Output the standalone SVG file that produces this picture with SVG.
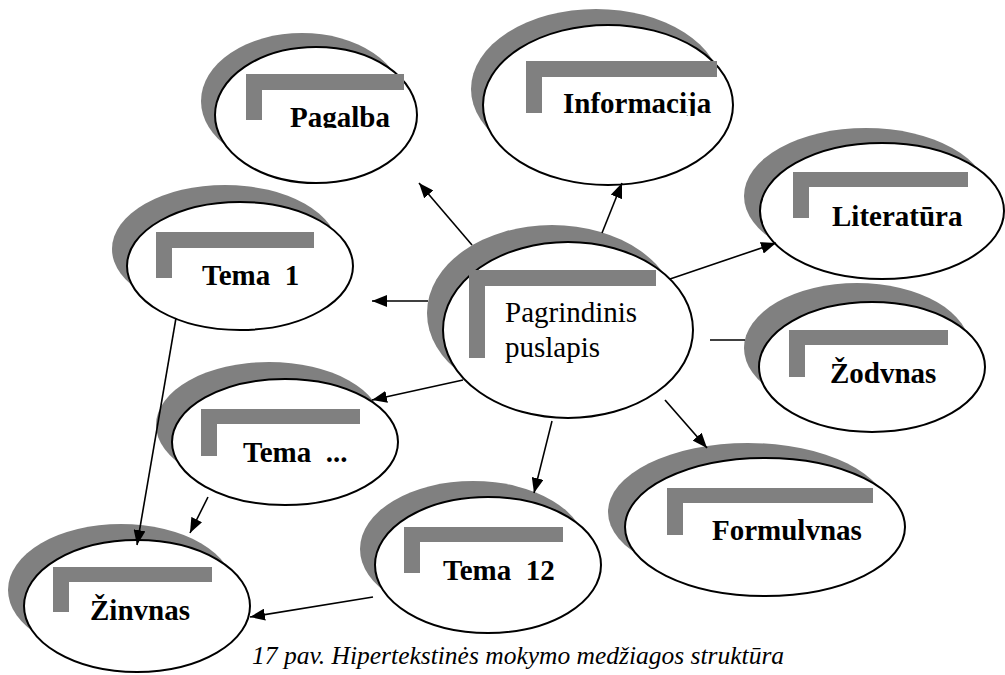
<svg xmlns="http://www.w3.org/2000/svg" width="1005" height="675" viewBox="0 0 1005 675">
  <defs>
    <style>
      .shadow { fill: #808080; stroke: none; }
      .oval { fill: #ffffff; stroke: #000000; stroke-width: 2; }
      .bar { fill: #808080; stroke: none; }
      .label { font-family: "Liberation Serif", "Times New Roman", serif; font-weight: bold; font-size: 29px; fill: #000000; }
      .main { font-family: "Liberation Serif", "Times New Roman", serif; font-size: 29px; fill: #000000; }
      .caption { font-family: "Liberation Serif", "Times New Roman", serif; font-style: italic; font-size: 25.5px; fill: #000000; }
      .link { stroke: #000000; stroke-width: 1.6; fill: none; }
    </style>
    <marker id="arrow" markerUnits="userSpaceOnUse" markerWidth="16" markerHeight="12" refX="15" refY="6" orient="auto">
      <path d="M0,0 L15,6 L0,12 Z" fill="#000000"/>
    </marker>
    <clipPath id="clipPagalba"><rect x="280" y="90" width="130" height="38"/></clipPath>
    <clipPath id="clipInfo"><rect x="555" y="80" width="170" height="36"/></clipPath>
  </defs>

  <!-- Pagalba -->
  <g id="node-pagalba">
    <ellipse class="shadow" cx="302" cy="101" rx="101" ry="68"/>
    <ellipse class="oval" cx="316" cy="115" rx="101" ry="68"/>
    <rect class="bar" x="246" y="74" width="158" height="16"/>
    <rect class="bar" x="246" y="74" width="16" height="46"/>
    <text class="label" x="290" y="127" clip-path="url(#clipPagalba)">Pagalba</text>
  </g>

  <!-- Informacija -->
  <g id="node-informacija">
    <ellipse class="shadow" cx="596" cy="89" rx="125" ry="80"/>
    <ellipse class="oval" cx="608" cy="105" rx="125" ry="80"/>
    <rect class="bar" x="526" y="61" width="191" height="16"/>
    <rect class="bar" x="526" y="61" width="16" height="52"/>
    <text class="label" x="563" y="113" clip-path="url(#clipInfo)">Informacija</text>
  </g>

  <!-- Literatūra -->
  <g id="node-literatura">
    <ellipse class="shadow" cx="866" cy="196" rx="122" ry="68"/>
    <ellipse class="oval" cx="882" cy="211" rx="122" ry="68"/>
    <rect class="bar" x="793" y="172" width="175" height="15"/>
    <rect class="bar" x="793" y="172" width="16" height="46"/>
    <text class="label" x="832" y="226">Literatūra</text>
  </g>

  <!-- Tema 1 -->
  <g id="node-tema1">
    <ellipse class="shadow" cx="225" cy="249" rx="113" ry="64"/>
    <ellipse class="oval" cx="240" cy="266" rx="113" ry="64"/>
    <rect class="bar" x="156" y="232" width="158" height="16"/>
    <rect class="bar" x="156" y="232" width="16" height="46"/>
    <text class="label" x="202" y="285" xml:space="preserve">Tema  1</text>
  </g>

  <!-- Pagrindinis puslapis -->
  <g id="node-main">
    <ellipse class="shadow" cx="552" cy="313" rx="125" ry="88"/>
    <ellipse class="oval" cx="568" cy="330" rx="125" ry="88"/>
    <rect class="bar" x="469" y="270" width="187" height="16"/>
    <rect class="bar" x="469" y="270" width="16" height="88"/>
    <text class="main" x="505" y="322">Pagrindinis</text>
    <text class="main" x="505" y="357">puslapis</text>
  </g>

  <!-- Žodvnas -->
  <g id="node-zodvnas">
    <ellipse class="shadow" cx="857" cy="348" rx="113" ry="65"/>
    <ellipse class="oval" cx="872" cy="367" rx="113" ry="65"/>
    <rect class="bar" x="789" y="330" width="159" height="15"/>
    <rect class="bar" x="789" y="330" width="16" height="47"/>
    <text class="label" x="830" y="383">Žodvnas</text>
  </g>

  <!-- Tema ... -->
  <g id="node-tema-dots">
    <ellipse class="shadow" cx="269" cy="425" rx="113" ry="63"/>
    <ellipse class="oval" cx="285" cy="442" rx="113" ry="63"/>
    <rect class="bar" x="201" y="409" width="159" height="15"/>
    <rect class="bar" x="201" y="409" width="16" height="47"/>
    <text class="label" x="243" y="462" xml:space="preserve">Tema  ...</text>
  </g>

  <!-- Formulvnas -->
  <g id="node-formulvnas">
    <ellipse class="shadow" cx="748" cy="512" rx="140" ry="69"/>
    <ellipse class="oval" cx="765" cy="527" rx="140" ry="69"/>
    <rect class="bar" x="667" y="488" width="206" height="15"/>
    <rect class="bar" x="667" y="488" width="16" height="47"/>
    <text class="label" x="712" y="540">Formulvnas</text>
  </g>

  <!-- Tema 12 -->
  <g id="node-tema12">
    <ellipse class="shadow" cx="473" cy="549" rx="113" ry="68"/>
    <ellipse class="oval" cx="488" cy="565" rx="113" ry="68"/>
    <rect class="bar" x="404" y="527" width="159" height="15"/>
    <rect class="bar" x="404" y="527" width="16" height="46"/>
    <text class="label" x="443" y="580" xml:space="preserve">Tema  12</text>
  </g>

  <!-- Žinvnas -->
  <g id="node-zinvnas">
    <ellipse class="shadow" cx="121" cy="590" rx="113" ry="66"/>
    <ellipse class="oval" cx="137" cy="606" rx="113" ry="66"/>
    <rect class="bar" x="53" y="567" width="159" height="15"/>
    <rect class="bar" x="53" y="567" width="16" height="45"/>
    <text class="label" x="90" y="620">Žinvnas</text>
  </g>

  <!-- connectors, drawn over the node shadows -->
  <g id="connectors">
    <line class="link" x1="472" y1="245" x2="419" y2="183" marker-end="url(#arrow)"/>
    <line class="link" x1="602" y1="233" x2="622" y2="183" marker-end="url(#arrow)"/>
    <line class="link" x1="428" y1="301" x2="372" y2="301" marker-end="url(#arrow)"/>
    <line class="link" x1="670" y1="279" x2="776" y2="243" marker-end="url(#arrow)"/>
    <line class="link" x1="710" y1="340" x2="745" y2="340"/>
    <line class="link" x1="665" y1="400" x2="707" y2="448" marker-end="url(#arrow)"/>
    <line class="link" x1="552" y1="421" x2="534" y2="493" marker-end="url(#arrow)"/>
    <line class="link" x1="463" y1="380" x2="372" y2="400" marker-end="url(#arrow)"/>
    <line class="link" x1="176" y1="318" x2="137" y2="545" marker-end="url(#arrow)"/>
    <line class="link" x1="208" y1="497" x2="190" y2="533" marker-end="url(#arrow)"/>
    <line class="link" x1="373" y1="597" x2="250" y2="617" marker-end="url(#arrow)"/>
  </g>

  <text class="caption" x="252" y="664">17 pav. Hipertekstinės mokymo medžiagos struktūra</text>
</svg>
